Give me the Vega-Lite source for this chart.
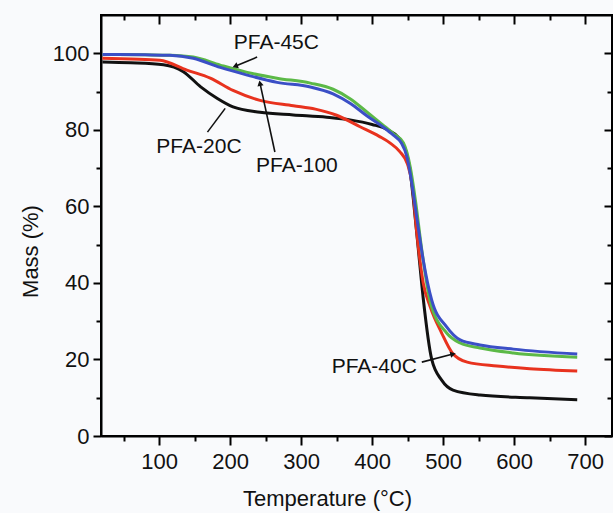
{
  "$schema": "https://vega.github.io/schema/vega-lite/v6.json",
  "width": 511,
  "height": 421,
  "autosize": {"type": "none"},
  "padding": {"left": 101, "top": 15, "right": 1, "bottom": 77},
  "background": "#f9fafc",
  "config": {
    "view": {"stroke": "black", "strokeWidth": 2},
    "axis": {
      "grid": false,
      "domainColor": "black",
      "domainWidth": 2,
      "tickColor": "black",
      "tickWidth": 2,
      "labelFont": "Liberation Sans",
      "labelFontSize": 22,
      "labelColor": "#111111",
      "titleFont": "Liberation Sans",
      "titleFontSize": 22,
      "titleFontWeight": "normal",
      "titleColor": "#111111"
    }
  },
  "datasets": {
    "tga": [
      {"sample": "PFA-20C", "T": 20, "mass": 97.7},
      {"sample": "PFA-20C", "T": 60, "mass": 97.5},
      {"sample": "PFA-20C", "T": 106, "mass": 97.0},
      {"sample": "PFA-20C", "T": 134, "mass": 95.2},
      {"sample": "PFA-20C", "T": 158, "mass": 91.3},
      {"sample": "PFA-20C", "T": 182, "mass": 88.2},
      {"sample": "PFA-20C", "T": 204, "mass": 86.0},
      {"sample": "PFA-20C", "T": 242, "mass": 84.6},
      {"sample": "PFA-20C", "T": 289, "mass": 83.9},
      {"sample": "PFA-20C", "T": 336, "mass": 83.3},
      {"sample": "PFA-20C", "T": 369, "mass": 82.6},
      {"sample": "PFA-20C", "T": 400, "mass": 81.4},
      {"sample": "PFA-20C", "T": 422, "mass": 80.0},
      {"sample": "PFA-20C", "T": 437, "mass": 78.0},
      {"sample": "PFA-20C", "T": 447, "mass": 74.8},
      {"sample": "PFA-20C", "T": 453, "mass": 70.0},
      {"sample": "PFA-20C", "T": 458, "mass": 62.0},
      {"sample": "PFA-20C", "T": 465, "mass": 49.0},
      {"sample": "PFA-20C", "T": 472, "mass": 36.0},
      {"sample": "PFA-20C", "T": 484, "mass": 20.0},
      {"sample": "PFA-20C", "T": 498, "mass": 14.6},
      {"sample": "PFA-20C", "T": 514, "mass": 12.0},
      {"sample": "PFA-20C", "T": 552, "mass": 10.7},
      {"sample": "PFA-20C", "T": 622, "mass": 10.0},
      {"sample": "PFA-20C", "T": 689, "mass": 9.5},
      {"sample": "PFA-40C", "T": 20, "mass": 98.7},
      {"sample": "PFA-40C", "T": 60, "mass": 98.5},
      {"sample": "PFA-40C", "T": 101, "mass": 98.2},
      {"sample": "PFA-40C", "T": 139, "mass": 95.6},
      {"sample": "PFA-40C", "T": 172, "mass": 93.5},
      {"sample": "PFA-40C", "T": 204, "mass": 90.3},
      {"sample": "PFA-40C", "T": 242, "mass": 87.7},
      {"sample": "PFA-40C", "T": 289, "mass": 86.3},
      {"sample": "PFA-40C", "T": 320, "mass": 85.4},
      {"sample": "PFA-40C", "T": 350, "mass": 83.8},
      {"sample": "PFA-40C", "T": 383, "mass": 80.8},
      {"sample": "PFA-40C", "T": 410, "mass": 78.3},
      {"sample": "PFA-40C", "T": 425, "mass": 76.6},
      {"sample": "PFA-40C", "T": 439, "mass": 74.3},
      {"sample": "PFA-40C", "T": 450, "mass": 71.0},
      {"sample": "PFA-40C", "T": 457, "mass": 65.0},
      {"sample": "PFA-40C", "T": 463, "mass": 53.0},
      {"sample": "PFA-40C", "T": 472, "mass": 40.0},
      {"sample": "PFA-40C", "T": 482, "mass": 33.7},
      {"sample": "PFA-40C", "T": 498, "mass": 26.9},
      {"sample": "PFA-40C", "T": 513, "mass": 21.7},
      {"sample": "PFA-40C", "T": 534, "mass": 19.3},
      {"sample": "PFA-40C", "T": 576, "mass": 18.3},
      {"sample": "PFA-40C", "T": 622, "mass": 17.6},
      {"sample": "PFA-40C", "T": 689, "mass": 17.0},
      {"sample": "PFA-45C", "T": 20, "mass": 99.7},
      {"sample": "PFA-45C", "T": 80, "mass": 99.6},
      {"sample": "PFA-45C", "T": 115, "mass": 99.5},
      {"sample": "PFA-45C", "T": 148, "mass": 99.0},
      {"sample": "PFA-45C", "T": 186, "mass": 96.9},
      {"sample": "PFA-45C", "T": 224, "mass": 95.0},
      {"sample": "PFA-45C", "T": 266, "mass": 93.5},
      {"sample": "PFA-45C", "T": 313, "mass": 92.2},
      {"sample": "PFA-45C", "T": 345, "mass": 90.6},
      {"sample": "PFA-45C", "T": 370, "mass": 88.0},
      {"sample": "PFA-45C", "T": 393, "mass": 84.6},
      {"sample": "PFA-45C", "T": 415, "mass": 81.3},
      {"sample": "PFA-45C", "T": 430, "mass": 79.0},
      {"sample": "PFA-45C", "T": 444, "mass": 76.6},
      {"sample": "PFA-45C", "T": 454, "mass": 70.0},
      {"sample": "PFA-45C", "T": 461, "mass": 61.6},
      {"sample": "PFA-45C", "T": 470, "mass": 48.6},
      {"sample": "PFA-45C", "T": 482, "mass": 35.0},
      {"sample": "PFA-45C", "T": 505, "mass": 26.9},
      {"sample": "PFA-45C", "T": 524, "mass": 24.3},
      {"sample": "PFA-45C", "T": 552, "mass": 23.0},
      {"sample": "PFA-45C", "T": 599, "mass": 21.7},
      {"sample": "PFA-45C", "T": 689, "mass": 20.6},
      {"sample": "PFA-100", "T": 20, "mass": 99.7},
      {"sample": "PFA-100", "T": 80, "mass": 99.6},
      {"sample": "PFA-100", "T": 115, "mass": 99.5},
      {"sample": "PFA-100", "T": 148, "mass": 98.7},
      {"sample": "PFA-100", "T": 186, "mass": 96.3},
      {"sample": "PFA-100", "T": 224, "mass": 94.3},
      {"sample": "PFA-100", "T": 266, "mass": 92.4},
      {"sample": "PFA-100", "T": 313, "mass": 91.2},
      {"sample": "PFA-100", "T": 345, "mass": 89.4},
      {"sample": "PFA-100", "T": 370, "mass": 86.8},
      {"sample": "PFA-100", "T": 393, "mass": 83.6},
      {"sample": "PFA-100", "T": 415, "mass": 80.8},
      {"sample": "PFA-100", "T": 430, "mass": 78.6},
      {"sample": "PFA-100", "T": 441, "mass": 76.6},
      {"sample": "PFA-100", "T": 449, "mass": 73.0},
      {"sample": "PFA-100", "T": 456, "mass": 66.0},
      {"sample": "PFA-100", "T": 463, "mass": 57.0},
      {"sample": "PFA-100", "T": 472, "mass": 46.0},
      {"sample": "PFA-100", "T": 484, "mass": 35.5},
      {"sample": "PFA-100", "T": 505, "mass": 28.5},
      {"sample": "PFA-100", "T": 524, "mass": 25.1},
      {"sample": "PFA-100", "T": 552, "mass": 23.8},
      {"sample": "PFA-100", "T": 599, "mass": 22.7},
      {"sample": "PFA-100", "T": 689, "mass": 21.4}
    ],
    "labels": [
      {"text": "PFA-45C", "T": 265, "mass": 101.0},
      {"text": "PFA-20C", "T": 156, "mass": 73.9},
      {"text": "PFA-100", "T": 294, "mass": 68.9},
      {"text": "PFA-40C", "T": 403, "mass": 16.4}
    ],
    "leaders": [
      {"name": "PFA-45C", "T": 238, "mass": 99.0, "T2": 207, "mass2": 96.6, "angle": 248},
      {"name": "PFA-20C", "T": 168, "mass": 79.4, "T2": 193, "mass2": 85.6, "angle": 37},
      {"name": "PFA-100", "T": 263, "mass": 74.2, "T2": 242, "mass2": 92.2, "angle": 348},
      {"name": "PFA-40C", "T": 470, "mass": 19.3, "T2": 514, "mass2": 21.4, "angle": 76}
    ]
  },
  "resolve": {"axis": {"x": "independent", "y": "independent"}},
  "layer": [
    {
      "data": {"name": "tga"},
      "mark": {"type": "line", "strokeWidth": 3, "interpolate": "monotone"},
      "encoding": {
        "x": {
          "field": "T", "type": "quantitative",
          "scale": {"domain": [18, 738], "nice": false, "zero": false},
          "axis": {
            "orient": "bottom",
            "title": "Temperature (°C)",
            "values": [50, 100, 150, 200, 250, 300, 350, 400, 450, 500, 550, 600, 650, 700],
            "labelExpr": "datum.value % 100 == 0 ? datum.label : ''",
            "tickSize": {"condition": {"test": "datum.value % 100 == 0", "value": 9}, "value": 5},
            "labelPadding": 6,
            "titleX": 226,
            "titleY": 69,
            "titleBaseline": "alphabetic",
            "titleAlign": "center"
          }
        },
        "y": {
          "field": "mass", "type": "quantitative",
          "scale": {"domain": [0, 110], "nice": false},
          "axis": {
            "orient": "left",
            "title": "Mass (%)",
            "values": [0, 10, 20, 30, 40, 50, 60, 70, 80, 90, 100],
            "labelExpr": "datum.value % 20 == 0 ? datum.label : ''",
            "tickSize": {"condition": {"test": "datum.value % 20 == 0", "value": 8}, "value": 5},
            "labelPadding": 4,
            "titleX": -64,
            "titleY": 236,
            "titleBaseline": "alphabetic",
            "titleAlign": "center"
          }
        },
        "color": {
          "field": "sample", "type": "nominal",
          "scale": {
            "domain": ["PFA-20C", "PFA-40C", "PFA-45C", "PFA-100"],
            "range": ["#111111", "#e8321e", "#5cb947", "#3b4fc6"]
          },
          "legend": null
        },
        "order": {"field": "T", "type": "quantitative"}
      }
    },
    {
      "data": {"name": "leaders"},
      "mark": {"type": "rule", "color": "#111111", "strokeWidth": 1.6},
      "encoding": {
        "x": {"field": "T", "type": "quantitative", "axis": {"orient": "top", "values": [50, 100, 150, 200, 250, 300, 350, 400, 450, 500, 550, 600, 650, 700], "labels": false, "title": null, "tickSize": {"condition": {"test": "datum.value % 100 == 0", "value": -9}, "value": -5}}},
        "y": {"field": "mass", "type": "quantitative", "axis": {"orient": "right", "values": [0, 10, 20, 30, 40, 50, 60, 70, 80, 90, 100], "labels": false, "title": null, "tickSize": {"condition": {"test": "datum.value % 20 == 0", "value": -8}, "value": -5}}},
        "x2": {"field": "T2"},
        "y2": {"field": "mass2"}
      }
    },
    {
      "data": {"name": "leaders"},
      "transform": [{"filter": "datum.name != 'PFA-20C'"}],
      "mark": {"type": "point", "shape": "triangle-up", "filled": true, "color": "#111111", "size": 40, "opacity": 1},
      "encoding": {
        "x": {"field": "T2", "type": "quantitative", "axis": null},
        "y": {"field": "mass2", "type": "quantitative", "axis": null},
        "angle": {"field": "angle", "type": "quantitative", "scale": null}
      }
    },
    {
      "data": {"name": "labels"},
      "mark": {"type": "text", "font": "Liberation Sans", "fontSize": 21, "color": "#111111", "align": "center", "baseline": "alphabetic"},
      "encoding": {
        "x": {"field": "T", "type": "quantitative", "axis": null},
        "y": {"field": "mass", "type": "quantitative", "axis": null},
        "text": {"field": "text"}
      }
    }
  ]
}
